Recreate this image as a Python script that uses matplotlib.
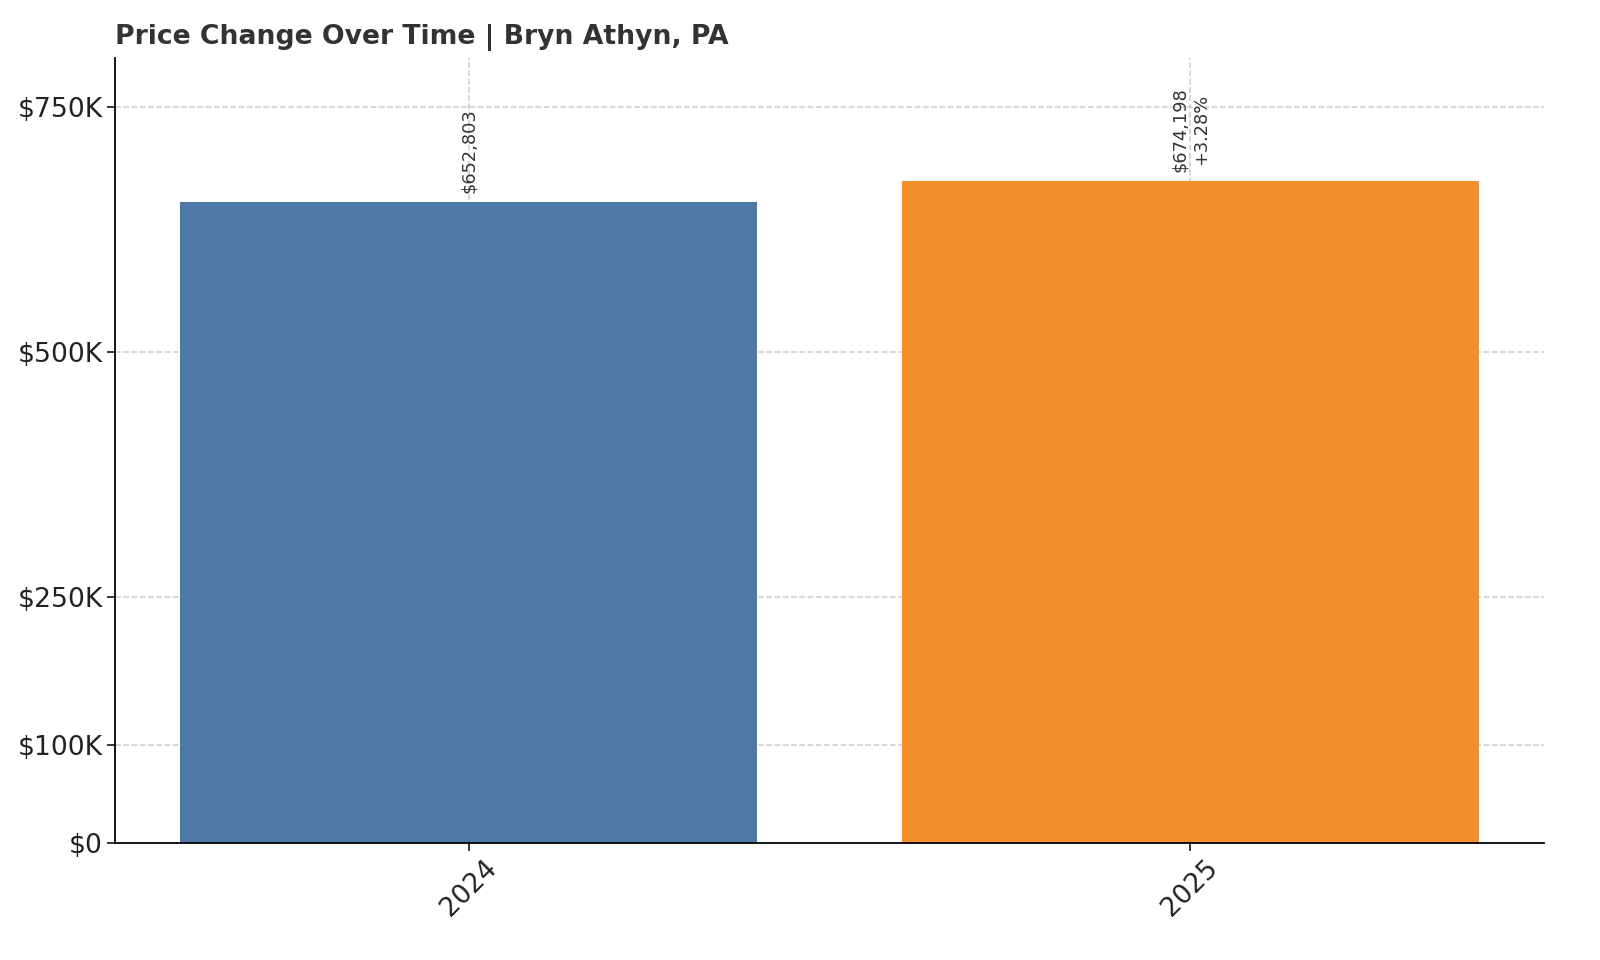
import matplotlib
matplotlib.use("Agg")
import matplotlib.pyplot as plt
from matplotlib.ticker import FuncFormatter

years = ["2024", "2025"]
prices = [652803, 674198]
changes = [None, "+3.28%"]
colors = ["#4e79a7", "#f28e2b"]
yticks = [0, 100000, 250000, 500000, 750000]

fig, ax = plt.subplots(figsize=(10, 6), dpi=160)

bars = ax.bar(years, prices, color=colors, width=0.8, zorder=2)

for bar, price, chg in zip(bars, prices, changes):
    label = f"${price:,.0f}"
    if chg:
        label += "\n" + chg
    ax.annotate(label, (bar.get_x() + bar.get_width() / 2, bar.get_height()),
                xytext=(0, 4), textcoords="offset points",
                ha="center", va="bottom", rotation=90,
                fontsize=8, color="#333333")


def money(v, pos):
    if v == 0:
        return "$0"
    return f"${v / 1000:.0f}K"


ax.set_ylim(0, 800000)
ax.set_yticks(yticks)
ax.yaxis.set_major_formatter(FuncFormatter(money))
ax.tick_params(axis="both", labelsize=12, colors="#222222", pad=2)
ax.tick_params(axis="x", labelrotation=45)
ax.grid(True, linestyle="--", color="#cccccc", linewidth=0.7, zorder=0)
ax.spines["top"].set_visible(False)
ax.spines["right"].set_visible(False)
ax.set_title("Price Change Over Time | Bryn Athyn, PA", loc="left",
             fontsize=12, fontweight="bold", color="#333333")

fig.subplots_adjust(left=0.072, right=0.965, top=0.94, bottom=0.122)
fig.savefig("out.png")
